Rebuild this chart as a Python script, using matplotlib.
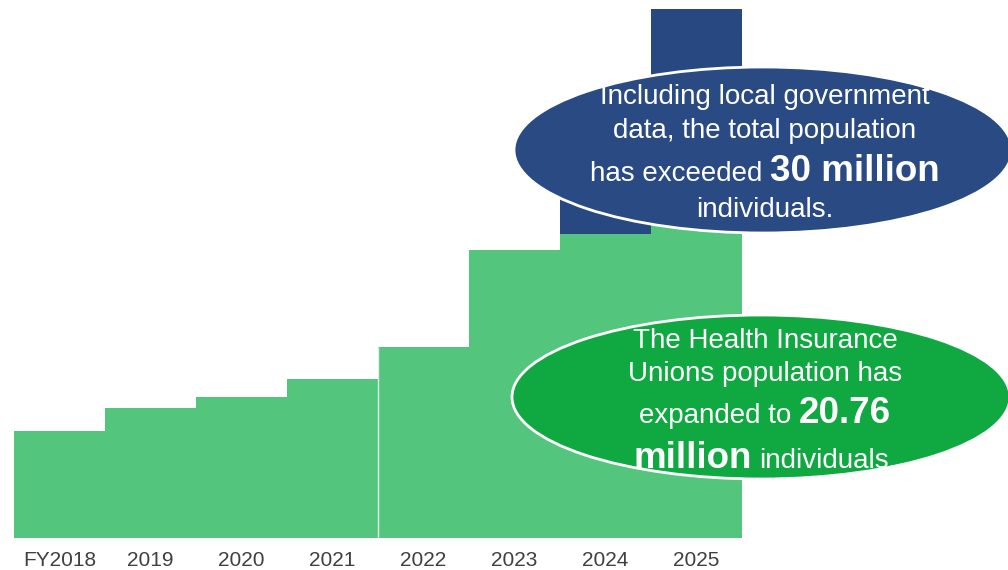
import matplotlib
matplotlib.use("Agg")
import matplotlib.pyplot as plt
from matplotlib.patches import Ellipse
import numpy as np

# --- data (million individuals) ---
years = ["FY2018", "2019", "2020", "2021", "2022", "2023", "2024", "2025"]
unions = [6.07, 7.37, 8.00, 9.02, 10.83, 16.34, 17.24, 20.76]   # Health Insurance Unions
local_gov = [0, 0, 0, 0, 0, 0, 5.76, 9.24]                      # local government add-on

GREEN_BAR = "#53C57C"
BLUE_BAR = "#284881"
BLUE_OVAL = "#294A82"
GREEN_OVAL = "#10A841"
TICK_COLOR = "#404040"
FONT = "Liberation Sans"

W, H = 1008, 570
fig = plt.figure(figsize=(W / 100, H / 100), dpi=100)
fig.patch.set_facecolor("white")

ax = fig.add_axes([14 / W, 32 / H, 728 / W, 529 / H])
x = np.arange(len(years))
ax.bar(x, unions, width=1.0, color=GREEN_BAR, linewidth=0, zorder=2)
ax.bar(x, local_gov, bottom=unions, width=1.0, color=BLUE_BAR, linewidth=0, zorder=2)
# thin divider where the later period begins
ax.vlines(x[4] - 0.5, 0, unions[4], color="white", lw=1.0, alpha=0.8, zorder=3)

ax.set_xlim(-0.5, len(years) - 0.5)
ax.set_ylim(0, 30)
ax.set_xticks(x, years)
ax.set_yticks([])
ax.tick_params(axis="x", length=0, pad=9.5, labelsize=15, labelcolor=TICK_COLOR)
for lbl in ax.get_xticklabels():
    lbl.set_fontfamily(FONT)
for sp in ax.spines.values():
    sp.set_visible(False)
ax.set_facecolor("none")


def px(xp, yp):
    """pixel position (from top-left) -> figure fraction"""
    return xp / W, 1 - yp / H


# callout ovals
for (cx, cy, a, b, col) in [(763, 150, 249, 83, BLUE_OVAL), (761, 397, 249, 82, GREEN_OVAL)]:
    e = Ellipse(px(cx, cy), 2 * a / W, 2 * b / H, transform=fig.transFigure,
                facecolor=col, edgecolor="white", lw=2, zorder=5)
    fig.add_artist(e)

renderer = fig.canvas.get_renderer()


def text_width(s, size, weight):
    t = fig.text(0, 0, s, fontsize=size, fontweight=weight, family=FONT)
    w = t.get_window_extent(renderer).width
    t.remove()
    return w


REG, BIG = 20, 26.5


def mixed_line(parts, cx, baseline):
    """parts: list of (string, weight, size); centred on cx, sharing a baseline"""
    sp = text_width("a a", REG, "normal") - text_width("aa", REG, "normal")
    widths = [text_width(s, size, wt) for s, wt, size in parts]
    total = sum(widths) + sp * (len(parts) - 1)
    xp = cx - total / 2
    for (s, wt, size), w in zip(parts, widths):
        fig.text(*px(xp, baseline), s, fontsize=size, fontweight=wt, family=FONT,
                 color="white", ha="left", va="baseline", zorder=6)
        xp += w + sp


total_2025 = unions[-1] + local_gov[-1]

mixed_line([("Including local government", "normal", REG)], 765, 104)
mixed_line([("data, the total population", "normal", REG)], 765, 138)
mixed_line([("has exceeded", "normal", REG), (f"{total_2025:.0f} million", "bold", BIG)], 765, 181)
mixed_line([("individuals.", "normal", REG)], 765, 217)

mixed_line([("The Health Insurance", "normal", REG)], 765, 348)
mixed_line([("Unions population has", "normal", REG)], 765, 381)
mixed_line([("expanded to", "normal", REG), (f"{unions[-1]:.2f}", "bold", BIG)], 765, 423)
mixed_line([("million", "bold", BIG), ("individuals.", "normal", REG)], 765, 468)

fig.savefig("out.png", dpi=100)
